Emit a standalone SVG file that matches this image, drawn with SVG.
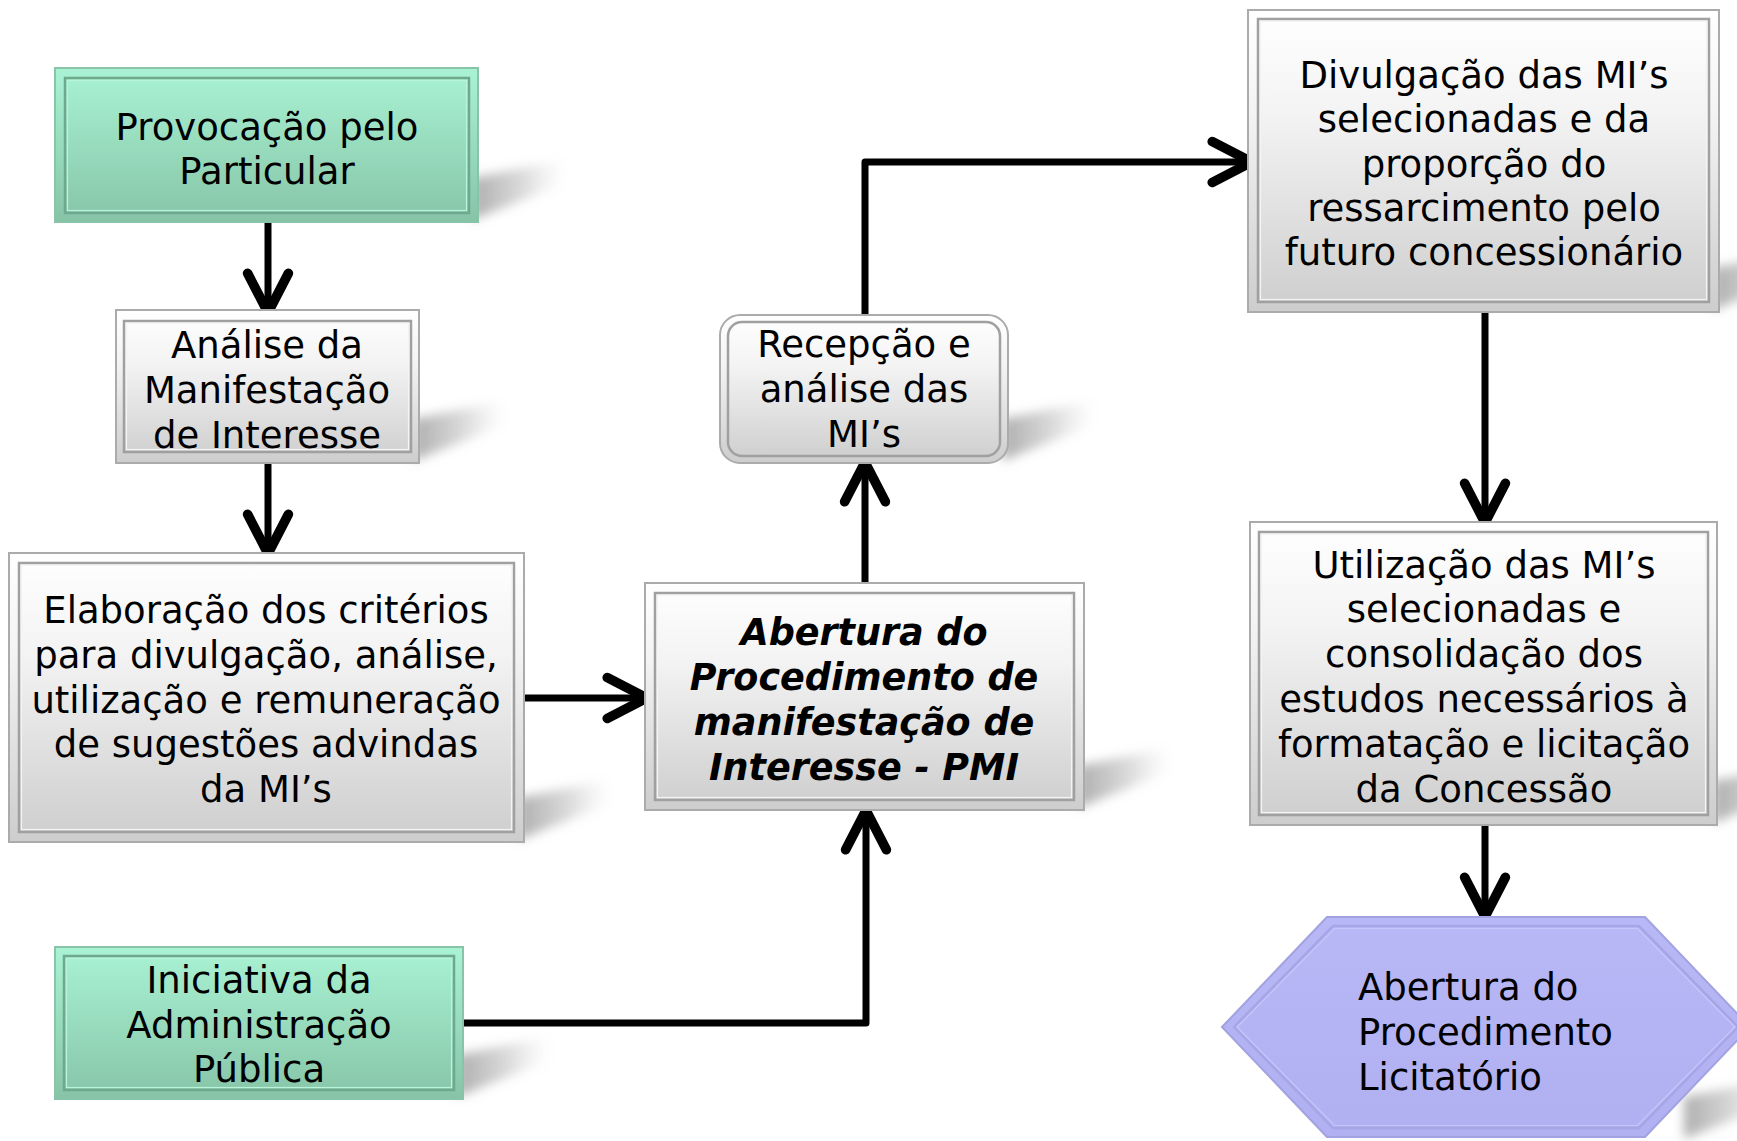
<svg xmlns="http://www.w3.org/2000/svg" xmlns:xlink="http://www.w3.org/1999/xlink" width="1737" height="1141" viewBox="0 0 1737 1141">
<defs>
<style>
.t{font-family:"DejaVu Sans",Verdana,sans-serif;font-size:37px;fill:#000;text-anchor:middle}
.tb{font-family:"DejaVu Sans",Verdana,sans-serif;font-size:36.5px;font-weight:bold;font-style:italic;fill:#000;text-anchor:middle}
.tl{font-family:"DejaVu Sans",Verdana,sans-serif;font-size:37px;fill:#000;text-anchor:start}
.gout{fill:url(#gGrey);stroke:#ababab;stroke-width:2}
.gin{fill:none;stroke:#a0a0a0;stroke-width:2.5}
.ghi{fill:none;stroke:#f4f4f4;stroke-width:1.2}
.nout{fill:url(#gGreen);stroke:#8ac4a8;stroke-width:2}
.nin{fill:none;stroke:#6fa98d;stroke-width:2.5}
.nhi{fill:none;stroke:#b8f4da;stroke-width:1.2}
.conn{fill:none;stroke:#000;stroke-width:7;stroke-linejoin:round;marker-end:url(#arr)}
.sh{fill:url(#gShadow);filter:url(#blur)}
</style>
<linearGradient id="gGrey" x1="0" y1="0" x2="0" y2="1">
<stop offset="0" stop-color="#ffffff"/>
<stop offset="0.35" stop-color="#f3f3f3"/>
<stop offset="1" stop-color="#cdcdcd"/>
</linearGradient>
<linearGradient id="gGreen" x1="0" y1="0" x2="0" y2="1">
<stop offset="0" stop-color="#a9f3d4"/>
<stop offset="1" stop-color="#87c4a7"/>
</linearGradient>
<linearGradient id="gHex" x1="0" y1="0" x2="0" y2="1">
<stop offset="0" stop-color="#b8b8f6"/>
<stop offset="1" stop-color="#b0b0f2"/>
</linearGradient>
<linearGradient id="gShadow" x1="0" y1="0" x2="1" y2="0">
<stop offset="0" stop-color="#777" stop-opacity="0.6"/>
<stop offset="0.5" stop-color="#888" stop-opacity="0.35"/>
<stop offset="1" stop-color="#aaa" stop-opacity="0"/>
</linearGradient>
<filter id="blur" x="-30%" y="-60%" width="160%" height="220%">
<feGaussianBlur stdDeviation="5.5"/>
</filter>
<path id="shadow" d="M-6,-44 L85,-62 L85,-38 L-6,-2 Z"/>
<marker id="arr" markerUnits="userSpaceOnUse" markerWidth="60" markerHeight="60" viewBox="-40 -25 50 50" refX="-4" refY="0" orient="auto">
<path d="M-33,-17 L0,0 L-33,17" fill="none" stroke="#000" stroke-width="8" stroke-linecap="round" stroke-linejoin="round"/>
</marker>
</defs>
<rect width="1737" height="1141" fill="#fff"/>

<g id="shadows">
<use xlink:href="#shadow" href="#shadow" x="478" y="222" class="sh"/>
<use xlink:href="#shadow" href="#shadow" x="419" y="463" class="sh"/>
<use xlink:href="#shadow" href="#shadow" x="524" y="842" class="sh"/>
<use xlink:href="#shadow" href="#shadow" x="1084" y="810" class="sh"/>
<use xlink:href="#shadow" href="#shadow" x="1008" y="463" class="sh"/>
<use xlink:href="#shadow" href="#shadow" x="463" y="1099" class="sh"/>
<use xlink:href="#shadow" href="#shadow" x="1719" y="312" class="sh"/>
<use xlink:href="#shadow" href="#shadow" x="1719" y="825" class="sh"/>
<use xlink:href="#shadow" href="#shadow" x="1690" y="1141" class="sh"/>
</g>

<g id="connectors">
<path class="conn" d="M268,222 L268,308"/>
<path class="conn" d="M268,463 L268,549"/>
<path class="conn" d="M524,698 L642,698"/>
<path class="conn" d="M865,583 L865,467"/>
<path class="conn" d="M865,315 L865,162 L1247,162"/>
<path class="conn" d="M463,1023 L866,1023 L866,815"/>
<path class="conn" d="M1485,312 L1485,518"/>
<path class="conn" d="M1485,825 L1485,912"/>
</g>

<g id="provocacao">
<rect class="nout" x="55" y="68" width="423" height="154"/>
<rect class="nin" x="65" y="78" width="404" height="135"/>
<rect class="nhi" x="67.5" y="80.5" width="399" height="130"/>
<text class="t" x="267" y="140">Provocação pelo</text>
<text class="t" x="267" y="184">Particular</text>
</g>

<g id="analise">
<rect class="gout" x="116" y="310" width="303" height="153"/>
<rect class="gin" x="124" y="321" width="287" height="131"/>
<rect class="ghi" x="126.5" y="323.5" width="282" height="126"/>
<text class="t" x="267" y="358">Análise da</text>
<text class="t" x="267" y="403">Manifestação</text>
<text class="t" x="267" y="448">de Interesse</text>
</g>

<g id="elaboracao">
<rect class="gout" x="9" y="553" width="515" height="289"/>
<rect class="gin" x="19" y="563" width="495" height="269"/>
<rect class="ghi" x="21.5" y="565.5" width="490" height="264"/>
<text class="t" x="266" y="623">Elaboração dos critérios</text>
<text class="t" x="266" y="668">para divulgação, análise,</text>
<text class="t" x="266" y="713">utilização e remuneração</text>
<text class="t" x="266" y="757">de sugestões advindas</text>
<text class="t" x="266" y="802">da MI’s</text>
</g>

<g id="pmi">
<rect class="gout" x="645" y="583" width="439" height="227"/>
<rect class="gin" x="655" y="593" width="419" height="207"/>
<rect class="ghi" x="657.5" y="595.5" width="414" height="202"/>
<text class="tb" x="864" y="645">Abertura do</text>
<text class="tb" x="864" y="690">Procedimento de</text>
<text class="tb" x="864" y="735">manifestação de</text>
<text class="tb" x="864" y="780">Interesse - PMI</text>
</g>

<g id="recepcao">
<rect class="gout" x="720" y="315" width="288" height="148" rx="20" ry="20"/>
<rect class="gin" x="728" y="322" width="272" height="134" rx="14" ry="14"/>
<text class="t" x="864" y="357">Recepção e</text>
<text class="t" x="864" y="402">análise das</text>
<text class="t" x="864" y="447">MI’s</text>
</g>

<g id="iniciativa">
<rect class="nout" x="55" y="947" width="408" height="152"/>
<rect class="nin" x="64" y="956" width="390" height="134"/>
<rect class="nhi" x="66.5" y="958.5" width="385" height="129"/>
<text class="t" x="259" y="993">Iniciativa da</text>
<text class="t" x="259" y="1038">Administração</text>
<text class="t" x="259" y="1082">Pública</text>
</g>

<g id="divulgacao">
<rect class="gout" x="1248" y="10" width="471" height="302"/>
<rect class="gin" x="1258" y="19" width="451" height="283"/>
<rect class="ghi" x="1260.5" y="21.5" width="446" height="278"/>
<text class="t" x="1484" y="88">Divulgação das MI’s</text>
<text class="t" x="1484" y="132">selecionadas e da</text>
<text class="t" x="1484" y="177">proporção do</text>
<text class="t" x="1484" y="221">ressarcimento pelo</text>
<text class="t" x="1484" y="265">futuro concessionário</text>
</g>

<g id="utilizacao">
<rect class="gout" x="1250" y="522" width="467" height="303"/>
<rect class="gin" x="1259" y="532" width="449" height="283"/>
<rect class="ghi" x="1261.5" y="534.5" width="444" height="278"/>
<text class="t" x="1484" y="578">Utilização das MI’s</text>
<text class="t" x="1484" y="622">selecionadas e</text>
<text class="t" x="1484" y="667">consolidação dos</text>
<text class="t" x="1484" y="712">estudos necessários à</text>
<text class="t" x="1484" y="757">formatação e licitação</text>
<text class="t" x="1484" y="802">da Concessão</text>
</g>

<g id="licitatorio">
<polygon points="1222,1027 1327,917 1645,917 1750,1027 1645,1137 1327,1137" fill="url(#gHex)" stroke="#a2a2e0" stroke-width="2"/>
<polygon points="1234,1027 1333,926 1639,926 1738,1027 1639,1128 1333,1128" fill="none" stroke="#a6a6e6" stroke-width="2.5"/>
<polygon points="1237,1027 1334.5,928.5 1637.5,928.5 1735,1027 1637.5,1125.5 1334.5,1125.5" fill="none" stroke="#c6c6fa" stroke-width="1.2"/>
<text class="tl" x="1358" y="1000">Abertura do</text>
<text class="tl" x="1358" y="1045">Procedimento</text>
<text class="tl" x="1358" y="1090">Licitatório</text>
</g>
</svg>
